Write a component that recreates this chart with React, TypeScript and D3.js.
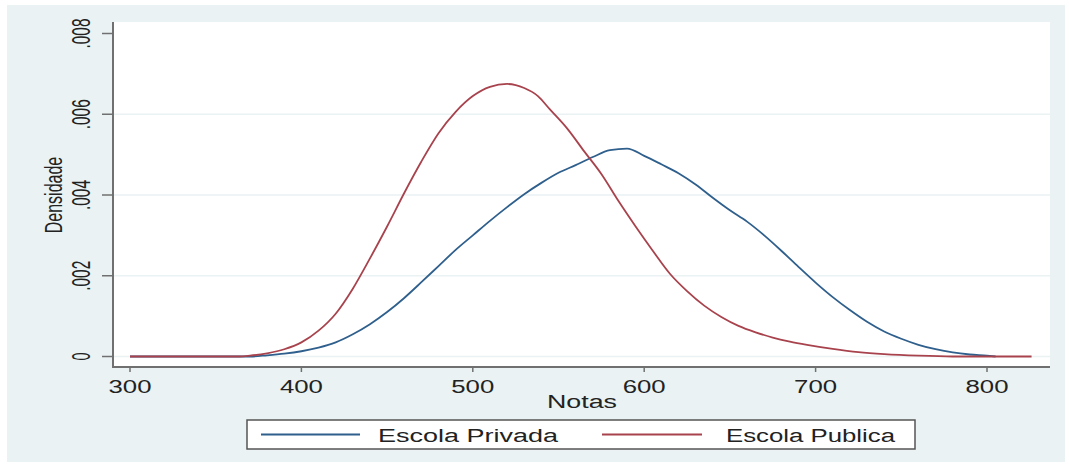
import React from "react";
import * as d3 from "d3";

const privadaX = [300, 333, 370, 380, 390, 400, 410, 420, 430, 440, 450, 460, 470, 480, 490, 500, 510, 520, 530, 540, 550, 560, 570, 580, 590, 600, 610, 620, 630, 640, 650, 660, 670, 680, 690, 700, 710, 720, 730, 740, 750, 760, 770, 780, 790, 800, 805];
const privadaY = [0, 0, 0, 0.00003, 0.00007, 0.00013, 0.00022, 0.00035, 0.00055, 0.0008, 0.0011, 0.00145, 0.00184, 0.00224, 0.00264, 0.003, 0.00336, 0.0037, 0.00402, 0.0043, 0.00455, 0.00474, 0.00494, 0.00511, 0.00515, 0.00497, 0.00476, 0.00454, 0.00426, 0.00393, 0.00362, 0.00334, 0.003, 0.00262, 0.00222, 0.00183, 0.00147, 0.00115, 0.00086, 0.00062, 0.00044, 0.00029, 0.00018, 0.0001, 0.00005, 0.00002, 0];

const publicaX = [300, 333, 364, 370, 380, 390, 400, 410, 420, 430, 440, 450, 460, 470, 480, 490, 500, 510, 520, 530, 538, 545, 555, 565, 575, 585, 595, 605, 615, 625, 635, 645, 655, 665, 675, 685, 695, 710, 725, 740, 760, 780, 826];
const publicaY = [0, 0, 0, 0.00002, 0.00008, 0.00018, 0.00035, 0.00064, 0.00106, 0.00168, 0.00243, 0.00322, 0.00405, 0.00483, 0.00553, 0.00606, 0.00645, 0.00668, 0.00675, 0.00665, 0.00645, 0.00612, 0.00565, 0.00508, 0.00452, 0.00385, 0.00322, 0.00262, 0.00205, 0.00162, 0.00126, 0.00098, 0.00076, 0.0006, 0.00047, 0.00037, 0.00029, 0.00019, 0.00011, 0.00006, 0.00002, 0, 0];

const xTicks = [300, 400, 500, 600, 700, 800];
const yTicks = [0, 0.002, 0.004, 0.006, 0.008];
const yTickLabels = ["0", ".002", ".004", ".006", ".008"];
const seriesNames = ["Escola Privada", "Escola Publica"];

const BLUE = "#2f5f8c";
const RED = "#a8434d";
const AXIS = "#707070";
const FONT = "'Liberation Sans', Arial, sans-serif";

export default function App() {
  const x = d3.scaleLinear().domain([300, 800]).range([130, 987]);
  const y = d3.scaleLinear().domain([0, 0.008]).range([356.5, 33.5]);
  const line = d3
    .line<[number, number]>()
    .x((d) => x(d[0]))
    .y((d) => y(d[1]))
    .curve(d3.curveMonotoneX);
  const privada: [number, number][] = privadaX.map((v, i) => [v, privadaY[i]]);
  const publica: [number, number][] = publicaX.map((v, i) => [v, publicaY[i]]);

  const plotL = 113, plotR = 1050, plotT = 22, plotB = 367;

  return (
    <svg
      width={1069}
      height={466}
      style={{ position: "absolute", left: 0, top: 0, background: "#fff" }}
      fontFamily={FONT}
    >
      <rect x={7} y={5} width={1058} height={457} fill="#eaf2f3" />
      <rect x={plotL} y={plotT} width={plotR - plotL} height={plotB - plotT} fill="#ffffff" />
      {yTicks.slice(0, 4).map((t) => (
        <line key={"g" + t} x1={plotL} x2={plotR} y1={y(t)} y2={y(t)} stroke="#eaf2f3" strokeWidth={1.5} />
      ))}
      <path d={line(privada) || ""} fill="none" stroke={BLUE} strokeWidth={1.8} />
      <path d={line(publica) || ""} fill="none" stroke={RED} strokeWidth={1.8} />
      <line x1={plotL} x2={plotL} y1={plotT} y2={plotB + 1} stroke={AXIS} strokeWidth={2} />
      <line x1={plotL} x2={plotR} y1={plotB} y2={plotB} stroke={AXIS} strokeWidth={2} />
      {yTicks.map((t, i) => (
        <g key={"y" + t}>
          <line x1={102} x2={plotL} y1={y(t)} y2={y(t)} stroke={AXIS} strokeWidth={1.5} />
          <text
            transform={`translate(90,${y(t)}) scale(1.5,1) rotate(-90)`}
            textAnchor="middle"
            fontSize={17}
            fill="#222"
            textLength={yTickLabels[i].length > 1 ? 30 : 8}
            lengthAdjust="spacingAndGlyphs"
          >
            {yTickLabels[i]}
          </text>
        </g>
      ))}
      {xTicks.map((t) => (
        <g key={"x" + t}>
          <line x1={x(t)} x2={x(t)} y1={plotB} y2={plotB + 5} stroke={AXIS} strokeWidth={1.5} />
          <text x={x(t)} y={393} textAnchor="middle" fontSize={18} fill="#222" textLength={43} lengthAdjust="spacingAndGlyphs">
            {t}
          </text>
        </g>
      ))}
      <text
        transform={`translate(62,195) scale(1.5,1) rotate(-90)`}
        textAnchor="middle"
        fontSize={16}
        fill="#222"
      >
        Densidade
      </text>
      <text x={582} y={408} textAnchor="middle" fontSize={18} fill="#222" textLength={70} lengthAdjust="spacingAndGlyphs">
        Notas
      </text>
      <rect x={247} y={420} width={668} height={29} fill="#fff" stroke="#555" strokeWidth={1.5} />
      <line x1={261} x2={360} y1={434.5} y2={434.5} stroke={BLUE} strokeWidth={1.8} />
      <text x={378} y={442} fontSize={18} fill="#222" textLength={180} lengthAdjust="spacingAndGlyphs">
        {seriesNames[0]}
      </text>
      <line x1={602} x2={702} y1={434.5} y2={434.5} stroke={RED} strokeWidth={1.8} />
      <text x={726} y={442} fontSize={18} fill="#222" textLength={169} lengthAdjust="spacingAndGlyphs">
        {seriesNames[1]}
      </text>
    </svg>
  );
}
